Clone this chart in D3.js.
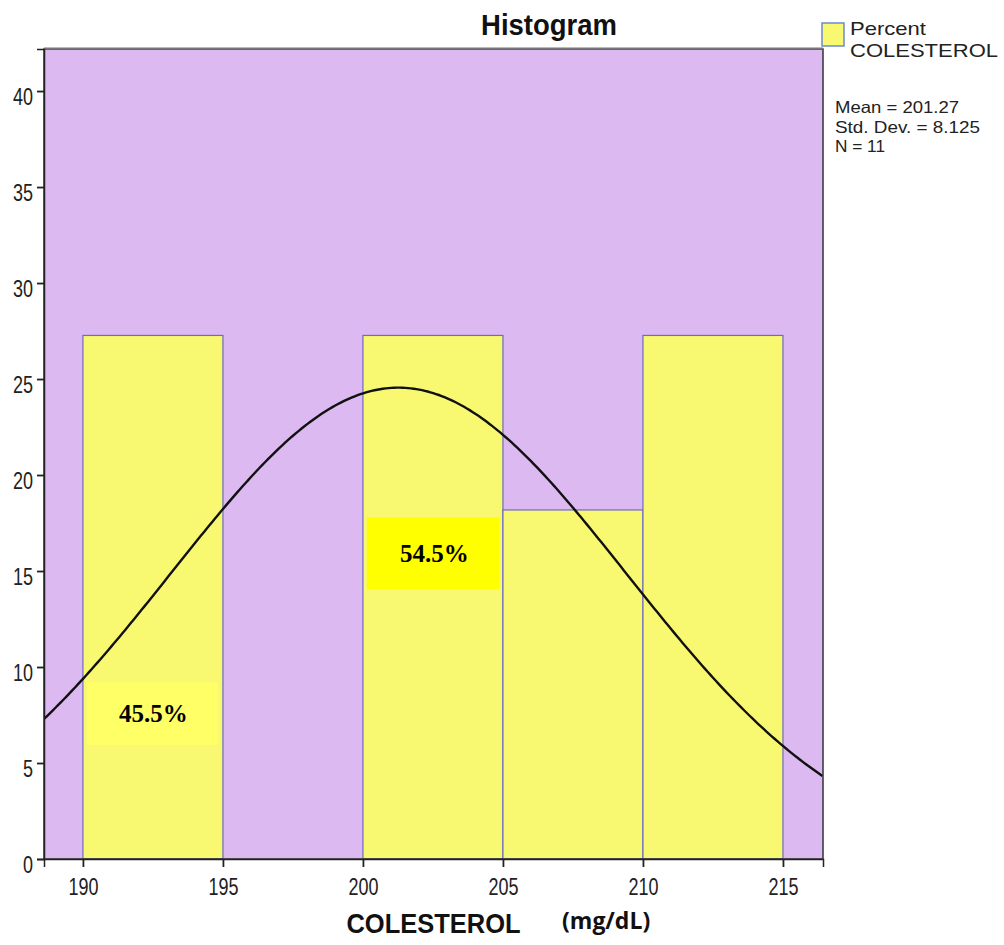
<!DOCTYPE html>
<html>
<head>
<meta charset="utf-8">
<script src="https://cdn.jsdelivr.net/npm/d3@7"></script>
<style>
  html, body { margin: 0; padding: 0; background: #fff; }
  svg { display: block; }
</style>
</head>
<body>
<svg id="chart" width="1004" height="945"></svg>
<script>
// Histogram of cholesterol readings (percent of cases per 5 mg/dL bin)
const binStarts = [190, 195, 200, 205, 210];
const binWidth = 5;
const percents = [27.27, 0, 27.27, 18.18, 27.27];
const yTicks = [0, 5, 10, 15, 20, 25, 30, 35, 40];
const xTicks = [190, 195, 200, 205, 210, 215];

// Summary statistics shown in the legend and used for the normal curve
const mean = 201.27;
const stdDev = 8.125;
const n = 11;

// Group annotations
const notes = [
  { x0: 190.14, x1: 194.82, y0: 5.95, y1: 9.2, text: "45.5%", fill: "#ffff66" },
  { x0: 200.14, x1: 204.89, y0: 14.05, y1: 17.8, text: "54.5%", fill: "#ffff00" }
];

const svg = d3.select("#chart");
const plot = { left: 44, right: 823, top: 49, bottom: 859 };

const x = d3.scaleLinear().domain([188.61, 216.43]).range([plot.left, plot.right]);
const y = d3.scaleLinear().domain([0, 42.19]).range([plot.bottom, plot.top]);

const sans = "'Liberation Sans', Arial, sans-serif";

// Place a text element at (px, py) baseline with a vertical stretch
function stretched(sel, px, py, sy) {
  return sel.attr("x", 0).attr("y", 0).attr("dy", null)
    .attr("transform", `translate(${px},${py}) scale(1,${sy})`);
}

svg.append("defs").append("clipPath").attr("id", "plotClip")
  .append("rect")
  .attr("x", plot.left).attr("y", plot.top)
  .attr("width", plot.right - plot.left).attr("height", plot.bottom - plot.top);

// Plot background
svg.append("rect")
  .attr("x", plot.left).attr("y", plot.top)
  .attr("width", plot.right - plot.left).attr("height", plot.bottom - plot.top)
  .attr("fill", "#dcb9f1");

// Bars
svg.append("g").selectAll("rect")
  .data(binStarts.map((s, i) => ({ s, v: percents[i] })).filter(d => d.v > 0))
  .join("rect")
  .attr("x", d => x(d.s))
  .attr("y", d => y(d.v))
  .attr("width", d => x(d.s + binWidth) - x(d.s))
  .attr("height", d => y(0) - y(d.v))
  .attr("fill", "#f9f871")
  .attr("stroke", "#6b6bc4")
  .attr("stroke-width", 1.2);

// Annotation boxes
const ng = svg.append("g");
ng.selectAll("rect").data(notes).join("rect")
  .attr("x", d => x(d.x0)).attr("y", d => y(d.y1))
  .attr("width", d => x(d.x1) - x(d.x0)).attr("height", d => y(d.y0) - y(d.y1))
  .attr("fill", d => d.fill);
ng.selectAll("text").data(notes).join("text")
  .attr("x", d => (x(d.x0) + x(d.x1)) / 2 + 1)
  .attr("y", d => (y(d.y0) + y(d.y1)) / 2)
  .attr("dy", "0.34em")
  .attr("text-anchor", "middle")
  .attr("font-family", "'Liberation Serif', 'Times New Roman', serif")
  .attr("font-weight", "bold")
  .attr("font-size", 25)
  .attr("fill", "#000")
  .text(d => d.text);

// Fitted normal curve, scaled to percent per bin
const normalPct = v => 100 * binWidth / (stdDev * Math.sqrt(2 * Math.PI)) *
  Math.exp(-0.5 * Math.pow((v - mean) / stdDev, 2));
const curveX = d3.range(188.61, 216.44, 0.1);
svg.append("path")
  .attr("clip-path", "url(#plotClip)")
  .attr("d", d3.line().x(v => x(v)).y(v => y(normalPct(v)))(curveX))
  .attr("fill", "none")
  .attr("stroke", "#111")
  .attr("stroke-width", 2.4);

// Frame
svg.append("rect")
  .attr("x", plot.left).attr("y", plot.top)
  .attr("width", plot.right - plot.left).attr("height", plot.bottom - plot.top)
  .attr("fill", "none").attr("stroke", "#333").attr("stroke-width", 1.5);
svg.append("line")
  .attr("x1", plot.left).attr("x2", plot.right)
  .attr("y1", plot.top - 0.5).attr("y2", plot.top - 0.5)
  .attr("stroke", "#777").attr("stroke-width", 2);

// Axes
const yAxis = svg.append("g")
  .attr("transform", `translate(${plot.left},0)`)
  .call(d3.axisLeft(y).tickValues(yTicks).tickSize(7).tickFormat(d3.format("d")));
const xAxis = svg.append("g")
  .attr("transform", `translate(0,${plot.bottom})`)
  .call(d3.axisBottom(x).tickValues(xTicks).tickSize(8).tickFormat(d3.format("d")));
[yAxis, xAxis].forEach(a => {
  a.select(".domain").attr("stroke", "#222").attr("stroke-width", 1.5);
  a.selectAll(".tick line").attr("stroke", "#222").attr("stroke-width", 1.8);
  a.selectAll(".tick text").attr("font-family", sans).attr("font-size", 18).attr("fill", "#222");
});
stretched(yAxis.selectAll(".tick text"), -11, 13, 1.3);
stretched(xAxis.selectAll(".tick text"), 0, 36, 1.3);

// Title and axis labels
stretched(svg.append("text"), 549, 35, 1.1)
  .attr("text-anchor", "middle")
  .attr("font-family", sans).attr("font-weight", "bold").attr("font-size", 27.5)
  .attr("fill", "#111")
  .text("Histogram");
stretched(svg.append("text"), 433.5, 933, 1.1)
  .attr("text-anchor", "middle")
  .attr("font-family", sans).attr("font-weight", "bold").attr("font-size", 25.5)
  .attr("fill", "#111")
  .text("COLESTEROL");
svg.append("text")
  .attr("x", 562).attr("y", 929)
  .attr("font-family", "'Open Sans', 'Liberation Sans', sans-serif").attr("font-weight", "bold").attr("font-size", 23)
  .attr("fill", "#111")
  .text("(mg/dL)");

// Legend
svg.append("rect")
  .attr("x", 822).attr("y", 23).attr("width", 22).attr("height", 23)
  .attr("fill", "#f9f871").attr("stroke", "#6b8ad0").attr("stroke-width", 1.5);
const legText = svg.append("g")
  .attr("font-family", sans).attr("fill", "#222");
legText.append("text").attr("x", 850).attr("y", 35).attr("font-size", 18.5)
  .attr("textLength", 76).attr("lengthAdjust", "spacingAndGlyphs").text("Percent");
legText.append("text").attr("x", 850).attr("y", 57).attr("font-size", 18.5)
  .attr("textLength", 148).attr("lengthAdjust", "spacingAndGlyphs").text("COLESTEROL");
const statLines = [
  { t: `Mean = ${mean}`, w: 124 },
  { t: `Std. Dev. = ${stdDev}`, w: 145 },
  { t: `N = ${n}`, w: 50 }
];
statLines.forEach((s, i) => {
  legText.append("text").attr("x", 835).attr("y", 113 + i * 19.5)
    .attr("font-size", 16.5)
    .attr("textLength", s.w).attr("lengthAdjust", "spacingAndGlyphs")
    .text(s.t);
});
</script>
</body>
</html>
